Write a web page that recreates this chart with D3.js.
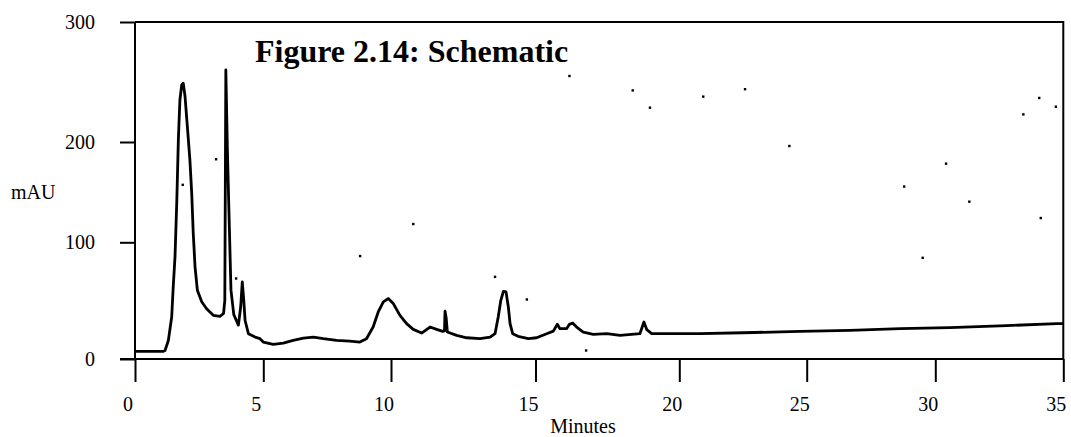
<!DOCTYPE html>
<head>
  <meta charset="utf-8">
  <script src="https://d3js.org/d3.v7.min.js"></script>
  <style>
    body { margin: 0; background: #fff; }
    text { font-family: "Liberation Serif", "Times New Roman", serif; fill: #000; }
    .axis path, .axis line { stroke: #000; stroke-width: 2px; }
    .axis text { font-size: 20px; font-family: "Liberation Serif", serif; }
    .trace { fill: none; stroke: #000; stroke-width: 2.8px; stroke-linejoin: round; }
  </style>
</head>

<body>
  <script>

    // chromatogram trace
    var minutes = [0, 1.09, 1.17, 1.30, 1.43, 1.49, 1.56, 1.63, 1.69, 1.75, 1.82, 1.88, 1.95, 2.04, 2.14,
      2.21, 2.27, 2.34, 2.43, 2.60, 2.79, 3.05, 3.31, 3.45, 3.50, 3.54, 3.60, 3.68, 3.74, 3.85,
      4.03, 4.12, 4.18, 4.24, 4.29, 4.42, 4.68, 4.87, 5.00, 5.39, 5.78, 6.17, 6.57, 6.96, 7.35,
      7.87, 8.39, 8.78, 9.04, 9.30, 9.50, 9.70, 9.89, 10.08, 10.31, 10.54, 10.77, 11.06, 11.35,
      11.58, 11.79, 11.85, 11.87, 11.91, 11.95, 12.27, 12.62, 13.08, 13.43, 13.60, 13.71, 13.80,
      13.89, 13.98, 14.06, 14.12, 14.21, 14.40, 14.75, 15.04, 15.39, 15.62, 15.76, 15.85, 16.08,
      16.18, 16.29, 16.43, 16.66, 17.01, 17.48, 17.94, 18.63, 18.77, 18.87, 19.04, 19.68, 20.81,
      22.51, 24.74, 26.68, 28.63, 30.57, 32.79, 34.75, 35];
    var mau = [6.5, 6.5, 7.3, 15.9, 36, 62, 88, 142, 202, 235, 247.5, 249, 238, 213, 182,
      149, 109, 79, 59, 49, 43, 37.4, 36.6, 39, 50, 260, 193, 112, 59, 38,
      29, 45, 66, 50, 33, 21.7, 18.8, 17.4, 14.5, 12.5, 13.6, 15.9, 17.9, 18.8, 17.4,
      15.9, 15.3, 14.5, 17.4, 27.4, 40.3, 48.9, 51.8, 47.5, 37.4, 30.3, 25.4, 22.2, 27.4,
      25.4, 23.7, 24, 40.9, 35, 23.1, 20.2, 18.2, 17.4, 18.8, 21.7, 36, 50.3,
      58, 57.5, 44.6, 30.3, 21.7, 19.4, 17.4, 18.2, 21.7, 23.9, 29.7, 26, 26,
      29.7, 30.8, 27.4, 23.1, 21.1, 21.7, 20.2, 21.7, 31.7, 25.1, 21.7, 21.7, 21.7,
      22.5, 23.7, 24.5, 26, 26.9, 28.6, 30.3, 30.3];

    // stray specks in the scan
    var speckMinutes = [3.16, 1.86, 3.94, 8.79, 10.77, 13.6, 14.70, 16.18, 16.76, 18.38, 18.98,
      20.94, 22.58, 24.32, 28.79, 29.51, 30.42, 31.33, 33.44, 34.06, 34.71, 34.12];
    var speckMau = [182.8, 157.3, 69, 88.2, 118.2, 70.4, 51, 255, 7.3, 243, 228.6,
      237.8, 244, 196, 155.6, 86.7, 178.4, 140.5, 223, 236.7, 229.4, 124.2];

    var xTicks = [0, 5, 10, 15, 20, 25, 30, 35];
    var yTicks = [0, 100, 200, 300];

    var svg = d3.select("body").append("svg")
      .attr("width", 1071)
      .attr("height", 437);

    // the printed axes are not evenly spaced, so piecewise scales
    var x = d3.scaleLinear()
      .domain(xTicks)
      .range([135, 263.3, 391, 535.5, 679.3, 806.7, 935.3, 1063.3]);

    var y = d3.scaleLinear()
      .domain(yTicks)
      .range([359, 242.3, 142, 22]);

    // frame (top and right)
    svg.append("path")
      .attr("d", "M" + x(0) + "," + y(300) + "H" + x(35) + "V" + y(0))
      .attr("fill", "none")
      .attr("stroke", "#000")
      .attr("stroke-width", 2);

    var xAxis = svg.append("g")
      .attr("class", "axis")
      .attr("transform", "translate(0," + y(0) + ")")
      .call(d3.axisBottom(x).tickValues(xTicks).tickSize(23).tickSizeOuter(0).tickPadding(15));
    xAxis.selectAll("text").attr("dx", -7.5);
    xAxis.select(".domain").attr("d", "M" + (x(0) - 15) + ",0H" + x(35));

    var yAxis = svg.append("g")
      .attr("class", "axis")
      .attr("transform", "translate(" + x(0) + ",0)")
      .call(d3.axisLeft(y).tickValues(yTicks).tickSize(15).tickSizeOuter(0).tickPadding(25));
    yAxis.select(".domain").attr("d", "M0," + y(300) + "V" + y(0));

    var line = d3.line()
      .x(function(d) { return x(d[0]); })
      .y(function(d) { return y(d[1]); });

    var trace = minutes.map(function(t, i) { return [t, mau[i]]; });

    svg.append("path")
      .datum(trace)
      .attr("class", "trace")
      .attr("d", line);

    var specks = speckMinutes.map(function(t, i) { return [t, speckMau[i]]; });
    svg.selectAll(".speck").data(specks).enter()
      .append("rect")
      .attr("class", "speck")
      .attr("x", function(d) { return x(d[0]) - 1.2; })
      .attr("y", function(d) { return y(d[1]) - 1.2; })
      .attr("width", 2.4)
      .attr("height", 2.4)
      .attr("fill", "#000");

    svg.append("text")
      .attr("x", 255)
      .attr("y", 62)
      .style("font-size", "32px")
      .style("font-weight", "bold")
      .text("Figure 2.14: Schematic");

    svg.append("text")
      .attr("x", 11)
      .attr("y", 199)
      .style("font-size", "20px")
      .text("mAU");

    svg.append("text")
      .attr("x", 583)
      .attr("y", 433)
      .attr("text-anchor", "middle")
      .style("font-size", "20px")
      .text("Minutes");

  </script>
</body>
